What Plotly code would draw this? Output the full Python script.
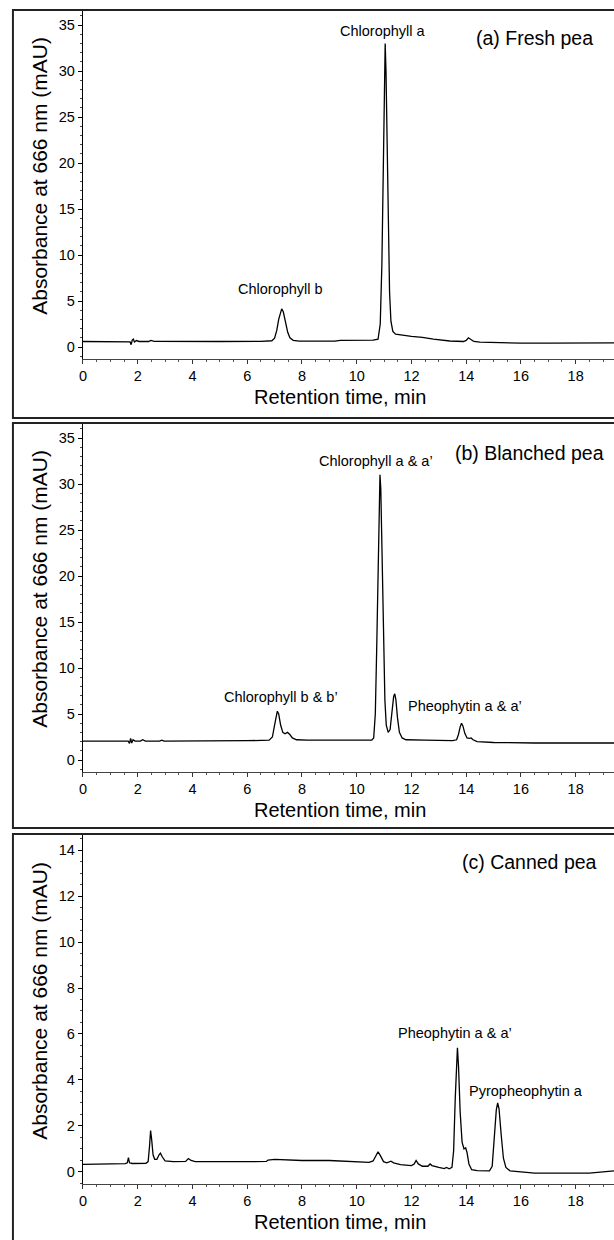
import plotly.graph_objects as go

W, H = 614, 1240

# ---------------- data ----------------
time_a = [0.00, 1.00, 1.60, 1.72, 1.76, 1.80, 1.84, 1.88, 1.95, 2.05, 2.40, 2.48, 2.60, 3.50, 5.00,
          6.50, 6.90, 7.00, 7.08, 7.15, 7.22, 7.26, 7.32, 7.40, 7.48, 7.56, 7.68, 7.90, 8.50, 9.20,
          9.40, 10.00, 10.60, 10.78, 10.86, 10.92, 10.97, 11.01, 11.04, 11.07, 11.11, 11.15, 11.20,
          11.25, 11.32, 11.42, 11.60, 12.00, 12.40, 12.80, 13.40, 13.90, 14.00, 14.08, 14.16, 14.28,
          14.50, 15.00, 16.00, 17.00, 18.00, 19.40]
abs_a = [0.60, 0.60, 0.60, 0.55, 0.25, 0.75, 0.85, 0.55, 0.70, 0.60, 0.60, 0.72, 0.62, 0.60, 0.60,
         0.62, 0.68, 0.95, 1.80, 3.00, 3.95, 4.15, 3.80, 2.70, 1.60, 1.00, 0.72, 0.64, 0.62, 0.64,
         0.72, 0.75, 0.75, 0.85, 2.50, 9.00, 20.0, 29.5, 33.0, 30.0, 22.0, 13.0, 6.0,
         2.8, 1.70, 1.40, 1.30, 1.15, 1.05, 0.85, 0.65, 0.60, 0.72, 1.00, 0.85, 0.60,
         0.52, 0.48, 0.42, 0.42, 0.42, 0.45]

time_b = [0.00, 1.00, 1.65, 1.70, 1.74, 1.78, 1.83, 1.90, 2.10, 2.18, 2.28, 2.80, 2.88, 2.96, 4.00,
          6.00, 6.80, 6.92, 7.00, 7.06, 7.10, 7.15, 7.22, 7.30, 7.38, 7.47, 7.55, 7.65, 7.80, 8.20,
          9.50, 10.55, 10.62, 10.68, 10.73, 10.78, 10.82, 10.85, 10.88, 10.93, 10.98, 11.03, 11.08,
          11.15, 11.22, 11.29, 11.35, 11.39, 11.43, 11.49, 11.56, 11.66, 11.80, 12.50, 13.50, 13.65,
          13.72, 13.78, 13.83, 13.88, 13.95, 14.03, 14.12, 14.18, 14.25, 14.40, 15.00, 16.50, 18.00,
          19.40]
abs_b = [2.05, 2.05, 2.05, 1.80, 2.35, 1.85, 2.20, 2.05, 2.05, 2.20, 2.05, 2.05, 2.15, 2.05, 2.05,
         2.10, 2.15, 2.50, 3.80, 4.90, 5.30, 5.00, 3.80, 3.00, 2.85, 3.00, 2.80, 2.40, 2.20, 2.15,
         2.15, 2.15, 2.40, 5.00, 12.0, 22.0, 29.0, 31.0, 29.5, 22.0, 13.0, 6.5, 3.8,
         3.00, 3.30, 5.20, 6.90, 7.20, 6.60, 4.60, 3.00, 2.40, 2.20, 2.15, 2.10, 2.20,
         2.80, 3.60, 4.00, 3.70, 2.90, 2.40, 2.35, 2.40, 2.20, 2.00, 1.90, 1.85, 1.85,
         1.85]

time_c = [0.00, 0.80, 1.55, 1.62, 1.66, 1.70, 1.80, 2.30, 2.38, 2.43, 2.47, 2.51, 2.56, 2.62, 2.70,
          2.78, 2.83, 2.90, 3.00, 3.30, 3.75, 3.85, 3.95, 4.10, 5.00, 6.00, 6.70, 6.76, 7.00, 7.50,
          8.00, 9.00, 10.00, 10.45, 10.60, 10.70, 10.78, 10.86, 10.98, 11.10, 11.25, 11.35, 11.60,
          12.00, 12.10, 12.17, 12.25, 12.40, 12.60, 12.68, 12.75, 13.00, 13.20, 13.28, 13.38, 13.48,
          13.54, 13.60, 13.65, 13.68, 13.72, 13.78, 13.85, 13.92, 13.98, 14.03, 14.10, 14.20, 14.40,
          14.85, 14.95, 15.03, 15.10, 15.15, 15.20, 15.28, 15.36, 15.45, 15.60, 16.50, 17.50, 18.50,
          19.40]
abs_c = [0.33, 0.34, 0.36, 0.40, 0.62, 0.40, 0.37, 0.38, 0.45, 1.10, 1.80, 1.40, 0.75, 0.55, 0.55,
         0.75, 0.82, 0.65, 0.48, 0.45, 0.46, 0.58, 0.50, 0.45, 0.44, 0.45, 0.46, 0.52, 0.55, 0.52,
         0.50, 0.50, 0.45, 0.42, 0.48, 0.72, 0.88, 0.72, 0.45, 0.40, 0.47, 0.40, 0.32,
         0.28, 0.35, 0.50, 0.35, 0.25, 0.25, 0.35, 0.28, 0.20, 0.15, 0.20, 0.14, 0.20,
         0.90, 3.20, 5.20, 5.40, 4.60, 2.60, 1.30, 1.00, 1.05, 0.85, 0.35, 0.10, 0.06,
         0.05, 0.25, 1.40, 2.70, 3.00, 2.75, 1.60, 0.60, 0.20, 0.05, -0.05, -0.05, -0.05,
         0.05]

x_ticks = [0, 2, 4, 6, 8, 10, 12, 14, 16, 18]
y_ticks_ab = [0, 5, 10, 15, 20, 25, 30, 35]
y_ticks_c = [0, 2, 4, 6, 8, 10, 12, 14]

panel_labels = ["(a) Fresh pea", "(b) Blanched pea", "(c) Canned pea"]
peak_labels_a = ["Chlorophyll a", "Chlorophyll b"]
peak_labels_b = ["Chlorophyll a & a’", "Chlorophyll b & b’", "Pheophytin a & a’"]
peak_labels_c = ["Pheophytin a & a’", "Pyropheophytin a"]

x_title = "Retention time, min"
y_title = "Absorbance at 666 nm (mAU)"

# ---------------- layout helpers ----------------
FONT = "Liberation Sans, Arial, Helvetica, sans-serif"
def py(p):  # pixel row -> paper y
    return 1 - p / H
def px(p):
    return p / W

offsets = [0, 413, 825]
x_dom = [px(79.5), 1.0]
x_range = [0, 19.4]
y_ranges = [[-1.304, 36.63], [-1.304, 36.63], [-0.522, 14.652]]

fig = go.Figure()
series = [(time_a, abs_a), (time_b, abs_b), (time_c, abs_c)]
for i, (t, a) in enumerate(series):
    sfx = "" if i == 0 else str(i + 1)
    fig.add_trace(go.Scatter(x=t, y=a, mode="lines",
                             line=dict(color="black", width=1.3),
                             xaxis="x" + sfx, yaxis="y" + sfx,
                             showlegend=False, hoverinfo="skip"))

layout = dict(width=W, height=H, margin=dict(l=0, r=0, t=0, b=0),
              paper_bgcolor="white", plot_bgcolor="white",
              font=dict(family=FONT, color="black", size=14),
              showlegend=False)

shapes = []
annotations = []
for i in range(3):
    o = offsets[i]
    sfx = "" if i == 0 else str(i + 1)
    ydom = [py(359 + o), py(10 + o)]
    yt = y_ticks_ab if i < 2 else y_ticks_c
    layout["xaxis" + sfx] = dict(
        domain=x_dom, range=x_range, anchor="y" + sfx,
        tickvals=x_ticks, ticktext=[str(v) for v in x_ticks],
        ticks="outside", ticklen=4, tickwidth=1, tickcolor="#333",
        minor=dict(dtick=0.5, ticks="outside", ticklen=2, tickcolor="#555"),
        showline=True, linecolor="#444", linewidth=1,
        showgrid=False, zeroline=False,
        tickfont=dict(family=FONT, size=14.5, color="black"))
    layout["yaxis" + sfx] = dict(
        domain=ydom, range=y_ranges[i], anchor="x" + sfx,
        tickvals=yt, ticktext=[str(v) for v in yt],
        ticks="outside", ticklen=4, tickwidth=1, tickcolor="black",
        minor=dict(dtick=1 if i < 2 else 0.5, ticks="outside", ticklen=2, tickcolor="#444"),
        showline=True, linecolor="black", linewidth=1.2,
        showgrid=False, zeroline=False,
        tickfont=dict(family=FONT, size=14.5, color="black"))
    # panel frame
    bottom = [418, 828, 1243][i]
    top = [10, 423, 834][i]
    shapes.append(dict(type="rect", xref="paper", yref="paper",
                       x0=px(9), x1=1.05, y0=py(bottom), y1=py(top),
                       line=dict(color="#222", width=2), fillcolor="rgba(0,0,0,0)"))
    # axis titles
    annotations.append(dict(text=y_title, xref="paper", yref="paper",
                            x=px(35), y=py(176 + o), textangle=-90,
                            xanchor="center", yanchor="middle", showarrow=False,
                            font=dict(family=FONT, size=21, color="black")))
    annotations.append(dict(text=x_title, xref="paper", yref="paper",
                            x=px(338), y=py(397 + o),
                            xanchor="center", yanchor="middle", showarrow=False,
                            font=dict(family=FONT, size=20, color="black")))

def ann(text, x, y, sfx, size):
    annotations.append(dict(text=text, x=x, y=y, xref="x" + sfx, yref="y" + sfx,
                            xanchor="center", yanchor="middle", showarrow=False,
                            font=dict(family=FONT, size=size, color="black")))

# panel a
ann(panel_labels[0], 16.5, 33.6, "", 19.5)
ann(peak_labels_a[0], 10.95, 34.4, "", 14.5)
ann(peak_labels_a[1], 7.2, 6.3, "", 14.5)
# panel b
ann(panel_labels[1], 16.3, 33.4, "2", 19.5)
ann(peak_labels_b[0], 10.7, 32.5, "2", 14.5)
ann(peak_labels_b[1], 7.25, 6.8, "2", 14.5)
ann(peak_labels_b[2], 13.95, 5.9, "2", 14.5)
# panel c
ann(panel_labels[2], 16.3, 13.48, "3", 19.5)
ann(peak_labels_c[0], 13.6, 6.03, "3", 14.5)
ann(peak_labels_c[1], 16.2, 3.52, "3", 14.5)

layout["shapes"] = shapes
layout["annotations"] = annotations
fig.update_layout(**layout)
fig.write_html("out.html",
               config={"displayModeBar": False, "staticPlot": True},
               post_script="document.body.style.margin='0';document.body.style.padding='0';"
                           "document.body.style.overflow='hidden';")
